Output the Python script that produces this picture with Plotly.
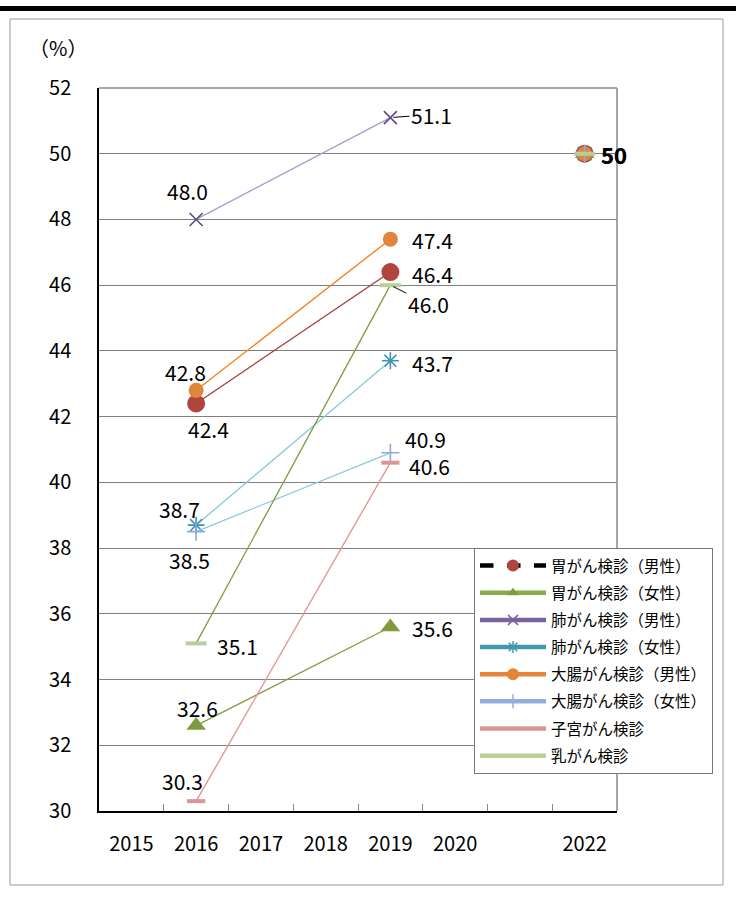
import plotly.graph_objects as go

# ---------------- data ----------------
years = [2016, 2019]
target_year = 2022
target_value = 50

series_names = [
    "胃がん検診（男性）", "胃がん検診（女性）", "肺がん検診（男性）", "肺がん検診（女性）",
    "大腸がん検診（男性）", "大腸がん検診（女性）", "子宮がん検診", "乳がん検診",
]
stomach_m = [42.4, 46.4]
stomach_f = [32.6, 35.6]
lung_m = [48.0, 51.1]
lung_f = [38.7, 43.7]
colon_m = [42.8, 47.4]
colon_f = [38.5, 40.9]
uterus = [30.3, 40.6]
breast = [35.1, 46.0]
series_values = [stomach_m, stomach_f, lung_m, lung_f, colon_m, colon_f, uterus, breast]

x_tick_years = [2015, 2016, 2017, 2018, 2019, 2020, 2022]
y_ticks = list(range(30, 53, 2))

# ---------------- styles ----------------
W, H = 736, 897
L, R, T, B = 99, 617, 88, 811
FONT = "Noto Sans CJK JP"

styles = [
    dict(line="#a33c3a", sym="circle", mc="#b0443f", size=18, mlw=0, lline="#000000", ldash="dash", lsym="circle"),
    dict(line="#7f9c3d", sym="triangle-up", mc="#7f9c3d", size=17, mlw=0, lline="#8aab4c", ldash="solid", lsym="triangle-up"),
    dict(line="#a99bcc", sym="x-thin", mc="#5c4a8a", size=13, mlw=1.6, lline="#7d60a0", ldash="solid", lsym="x-thin"),
    dict(line="#86c8dd", sym="asterisk", mc="#3f95b0", size=14, mlw=1.6, lline="#4198af", ldash="solid", lsym="asterisk"),
    dict(line="#f47d14", sym="circle", mc="#e0853a", size=15, mlw=0, lline="#e5853a", ldash="solid", lsym="circle"),
    dict(line="#8cc9e0", sym="cross-thin", mc="#8fa8d8", size=13, mlw=1.6, lline="#94aedb", ldash="solid", lsym="cross-thin"),
    dict(line="#e3918f", sym="line-ew", mc="#d99694", size=13, mlw=4, lline="#d99694", ldash="solid", lsym=None),
    dict(line="#7f9c3d", sym="line-ew", mc="#b7d098", size=15, mlw=4, lline="#b7d098", ldash="solid", lsym=None),
]

# label pixel offsets (dx, dy) relative to each point (2016, 2019)
label_offsets = [
    [(12, -26), (42, -2)],
    [(1, 18), (42, -1)],
    [(-9, 28), (41, 3)],
    [(-17, 16), (42, -2)],
    [(-11, 18), (42, -1)],
    [(-7, -28), (35, 14)],
    [(-14, 20), (39, -3)],
    [(41, -3), (38, -19)],
]
leader_labels = {(2, 1), (7, 1)}
LABEL_SIZE = 21


def marker_dict(st):
    if st["mlw"] > 0:
        return dict(symbol=st["sym"], size=st["size"], color=st["mc"],
                    line=dict(width=st["mlw"], color=st["mc"]))
    return dict(symbol=st["sym"], size=st["size"], color=st["mc"], line=dict(width=0))


fig = go.Figure()

for name, vals, st in zip(series_names, series_values, styles):
    fig.add_trace(go.Scatter(
        x=years, y=vals, mode="lines+markers", showlegend=False,
        line=dict(color=st["line"], width=1.3),
        marker=marker_dict(st), hoverinfo="skip",
    ))
    fig.add_trace(go.Scatter(
        x=[target_year], y=[target_value], mode="markers", showlegend=False,
        marker=marker_dict(st), hoverinfo="skip",
    ))

for i, (name, st) in enumerate(zip(series_names, styles)):
    kw = dict(x=[None], y=[None], name=name, legendgroup=f"g{i}", showlegend=True,
              line=dict(color=st["lline"], width=4.5, dash=st["ldash"]))
    if st["lsym"]:
        mk = dict(symbol=st["lsym"], size=12 if st["lsym"] == "circle" else 10, color=st["mc"])
        if st["mlw"] > 0:
            mk["line"] = dict(width=1.5, color=st["lline"])
        kw.update(mode="lines+markers", marker=mk)
    else:
        kw.update(mode="lines")
    fig.add_trace(go.Scatter(**kw))

annotations = []
for i, vals in enumerate(series_values):
    for j, (x, v) in enumerate(zip(years, vals)):
        dx, dy = label_offsets[i][j]
        if (i, j) in leader_labels:
            annotations.append(dict(
                x=x, y=v, xref="x", yref="y", text=f"{v:.1f}", showarrow=True,
                arrowhead=0, arrowwidth=1, arrowcolor="#000", ax=dx, ay=-dy,
                standoff=3, xanchor="center", yanchor="middle",
                font=dict(family=FONT, size=LABEL_SIZE, color="#000"),
            ))
        else:
            annotations.append(dict(
                x=x, y=v, xref="x", yref="y", text=f"{v:.1f}", showarrow=False,
                xshift=dx, yshift=dy, xanchor="center", yanchor="middle",
                font=dict(family=FONT, size=LABEL_SIZE, color="#000"),
            ))
for k in range(2):
    annotations.append(dict(
        x=target_year, y=target_value, xref="x", yref="y", text=f"<b>{target_value}</b>",
        showarrow=False, xshift=29 + 0.6 * k, yshift=0, xanchor="center", yanchor="middle",
        font=dict(family=FONT, size=22, color="#000"),
    ))


def px_x(p):
    return (p - L) / (R - L)


def px_y(p):
    return (B - p) / (B - T)


annotations.append(dict(
    x=px_x(58), y=px_y(48), xref="paper", yref="paper", text="（%）", showarrow=False,
    xanchor="center", yanchor="middle", font=dict(family=FONT, size=20, color="#000"),
))

shapes = [
    dict(type="line", xref="paper", yref="paper", x0=px_x(0), x1=px_x(W), y0=px_y(8.5), y1=px_y(8.5),
         line=dict(color="#000", width=5), layer="below"),
    dict(type="rect", xref="paper", yref="paper", x0=px_x(10), x1=px_x(723), y0=px_y(885), y1=px_y(19),
         line=dict(color="#9a9a9a", width=1), layer="below"),
    dict(type="line", xref="paper", yref="paper", x0=0, x1=1, y0=1, y1=1,
         line=dict(color="#888", width=1.5)),
    dict(type="line", xref="paper", yref="paper", x0=1, x1=1, y0=0, y1=1,
         line=dict(color="#888", width=1.5)),
]

fig.update_layout(
    width=W, height=H,
    margin=dict(l=L, r=W - R, t=T, b=H - B),
    paper_bgcolor="white", plot_bgcolor="white",
    font=dict(family=FONT, size=20, color="#000"),
    showlegend=True,
    legend=dict(
        x=px_x(474), y=px_y(548), xanchor="left", yanchor="top",
        bgcolor="white", bordercolor="#777", borderwidth=1,
        font=dict(family=FONT, size=15.5, color="#000"),
        tracegroupgap=4, itemwidth=66,
    ),
    annotations=annotations,
    shapes=shapes,
)

fig.update_xaxes(
    range=[2014.5, 2022.5], tickvals=x_tick_years, ticktext=[str(y) for y in x_tick_years],
    ticks="", showgrid=False, zeroline=False, showline=True, linecolor="#000", linewidth=1.5,
    ticklabelstandoff=14, tickfont=dict(family=FONT, size=20),
    minor=dict(tickvals=[y + 0.5 for y in range(2015, 2022)], ticks="inside", ticklen=7,
               tickcolor="#888", tickwidth=1, showgrid=False),
)
fig.update_yaxes(
    range=[30, 52], tickvals=y_ticks, ticks="", showgrid=True, gridcolor="#808080", gridwidth=1,
    zeroline=False, showline=True, linecolor="#000", linewidth=1.5,
    ticklabelstandoff=22, tickfont=dict(family=FONT, size=20),
)

fig.write_html("out.html")
